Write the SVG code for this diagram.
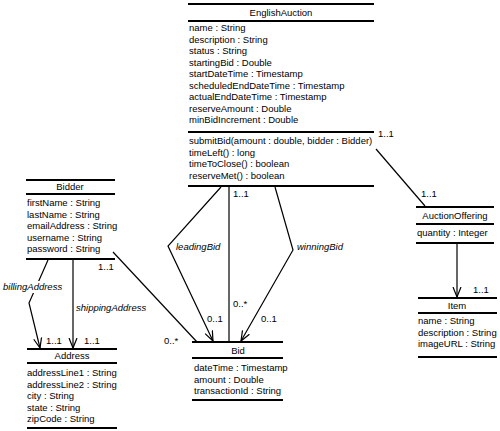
<svg xmlns="http://www.w3.org/2000/svg" width="500" height="431" viewBox="0 0 500 431">
<defs>
<style>
text{font-family:"Liberation Sans",Arial,sans-serif;font-size:9.5px;fill:#000}
.n{text-anchor:middle}
.r{fill:none;stroke:#000;stroke-width:2}
.c{fill:none;stroke:#000;stroke-width:1.2}
.i{font-style:italic}
</style>
<marker id="v" viewBox="0 0 10 10" refX="10" refY="5" markerWidth="10" markerHeight="10" markerUnits="userSpaceOnUse" orient="auto">
<path d="M0,1 L10,5 L0,9" fill="none" stroke="#000" stroke-width="1.2"/>
</marker>
</defs>
<rect width="500" height="431" fill="#fff"/>
<g id="connectors">
<path class="c" d="M376,149 L425,206"/>
<text x="378" y="137">1..1</text>
<text x="421" y="197">1..1</text>
<path class="c" d="M457,243 L457,297" marker-end="url(#v)"/>
<text x="473" y="293">1..1</text>
<path class="c" d="M48,260 L29,303 L40,348" marker-end="url(#v)"/>
<rect x="2" y="281" width="58" height="12" fill="#fff"/>
<text class="i" x="3" y="290">billingAddress</text>
<path class="c" d="M73,260 L73,348" marker-end="url(#v)"/>
<text class="i" x="76" y="311">shippingAddress</text>
<text x="46" y="344">1..1</text>
<text x="84" y="344">1..1</text>
<path class="c" d="M113,252 L197,342"/>
<text x="98" y="270">1..1</text>
<text x="164" y="344">0..*</text>
<path class="c" d="M221,187 L168,246 L213,341" marker-end="url(#v)"/>
<text class="i" x="176" y="250">leadingBid</text>
<text x="207" y="322">0..1</text>
<path class="c" d="M229,187 L229,342"/>
<text x="233" y="197">1..1</text>
<text x="233" y="307">0..*</text>
<path class="c" d="M275,187 L293,250 L241,341" marker-end="url(#v)"/>
<text class="i" x="297" y="250">winningBid</text>
<text x="261" y="322">0..1</text>
</g>
<g id="EnglishAuction">
<path class="r" d="M188,4 H374 M188,21 H374 M188,132 H374 M188,186 H374"/>
<text class="n" x="281" y="16">EnglishAuction</text>
<text x="189" y="31">name : String</text>
<text x="189" y="42.5">description : String</text>
<text x="189" y="54">status : String</text>
<text x="189" y="65.5">startingBid : Double</text>
<text x="189" y="77">startDateTime : Timestamp</text>
<text x="189" y="88.5">scheduledEndDateTime : Timestamp</text>
<text x="189" y="100">actualEndDateTime : Timestamp</text>
<text x="189" y="111.5">reserveAmount : Double</text>
<text x="189" y="123">minBidIncrement : Double</text>
<text x="189" y="144">submitBid(amount : double, bidder : Bidder)</text>
<text x="189" y="155.5">timeLeft() : long</text>
<text x="189" y="167">timeToClose() : boolean</text>
<text x="189" y="178.5">reserveMet() : boolean</text>
</g>
<g id="Bidder">
<path class="r" d="M26,180 H115 M26,194 H115 M26,259 H115"/>
<text class="n" x="70" y="190">Bidder</text>
<text x="27" y="206">firstName : String</text>
<text x="27" y="217.5">lastName : String</text>
<text x="27" y="229">emailAddress : String</text>
<text x="27" y="240.5">username : String</text>
<text x="27" y="252">password : String</text>
</g>
<g id="Address">
<path class="r" d="M27,349 H117 M27,363 H117 M27,428 H117"/>
<text class="n" x="72" y="359">Address</text>
<text x="27" y="376">addressLine1 : String</text>
<text x="27" y="387.5">addressLine2 : String</text>
<text x="27" y="399">city : String</text>
<text x="27" y="410.5">state : String</text>
<text x="27" y="422">zipCode : String</text>
</g>
<g id="Bid">
<path class="r" d="M192,342 H283 M192,358 H283 M192,400 H283"/>
<text class="n" x="238" y="354">Bid</text>
<text x="194" y="371">dateTime : Timestamp</text>
<text x="194" y="382.5">amount : Double</text>
<text x="194" y="394">transactionId : String</text>
</g>
<g id="AuctionOffering">
<path class="r" d="M416,207 H494 M416,224 H494 M416,243 H494"/>
<text class="n" x="455" y="219">AuctionOffering</text>
<text x="417" y="236">quantity : Integer</text>
</g>
<g id="Item">
<path class="r" d="M418,298 H497 M418,313 H497 M418,357 H497"/>
<text class="n" x="457" y="309">Item</text>
<text x="418" y="324">name : String</text>
<text x="418" y="335.5">description : String</text>
<text x="418" y="347">imageURL : String</text>
</g>
</svg>
